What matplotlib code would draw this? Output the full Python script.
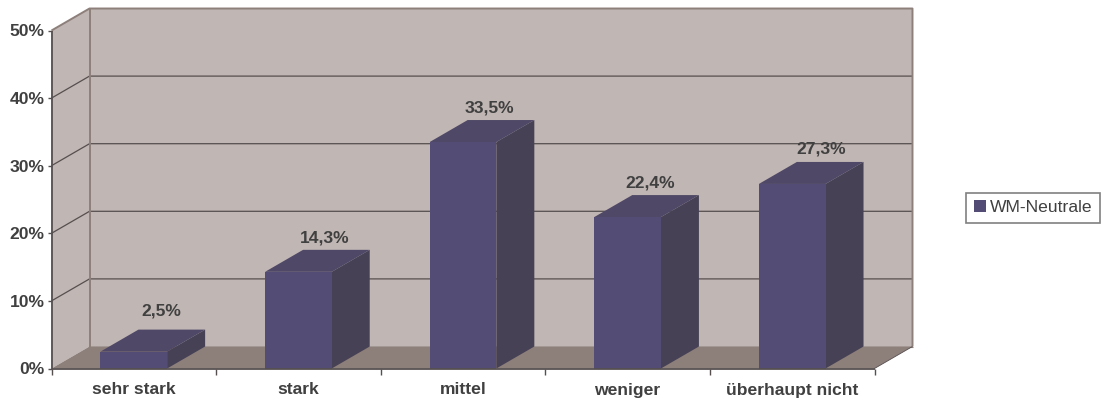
import matplotlib
matplotlib.use("Agg")
import matplotlib.pyplot as plt
from matplotlib.patches import Polygon, Patch

categories = ["sehr stark", "stark", "mittel", "weniger", "überhaupt nicht"]
values = [2.5, 14.3, 33.5, 22.4, 27.3]
value_labels = ["2,5%", "14,3%", "33,5%", "22,4%", "27,3%"]
y_ticks = [0, 10, 20, 30, 40, 50]
series_name = "WM-Neutrale"
label_shift_x = [28, 26, 26, 23, 29]
label_shift_y = [36, 29, 30, 30, 30]

W, H = 1103, 401
L, R, T, B = 51.5, 874.5, 30.5, 368.5
FS = 12.6
plt.rcParams["font.family"] = ["Liberation Sans", "DejaVu Sans"]
fig = plt.figure(figsize=(W / 100, H / 100), dpi=100, facecolor="white")
ax = fig.add_axes([L / W, 1 - B / H, (R - L) / W, (B - T) / H])
ax.set_xlim(0, len(categories))
ax.set_ylim(0, 50)
ax.patch.set_visible(False)
for s in ax.spines.values():
    s.set_visible(False)

dx = 38 / ((R - L) / 5)
dy = 22 / ((B - T) / 50)
n = len(categories)

WALL = "#C0B6B3"
FLOOR = "#8D7F7A"
EDGE = "#8D7F7A"
DARK = "#564F4F"
TEXT = "#404040"
FRONT = "#534C75"
TOP = "#4F4866"
SIDE = "#474156"

def poly(pts, fc, ec="none", lw=0, z=1):
    ax.add_patch(Polygon(pts, closed=True, fc=fc, ec=ec, lw=lw, zorder=z, clip_on=False))

def line(xs, ys, c, lw, z=2):
    ax.plot(xs, ys, color=c, lw=lw, zorder=z, clip_on=False, solid_capstyle="butt")

# walls and floor
poly([(dx, dy), (n + dx, dy), (n + dx, 50 + dy), (dx, 50 + dy)], WALL)
poly([(0, 0), (dx, dy), (dx, 50 + dy), (0, 50)], WALL)
poly([(0, 0), (n, 0), (n + dx, dy), (dx, dy)], FLOOR)

# gridlines
for v in y_ticks[1:-1]:
    line([0, dx, n + dx], [v, v + dy, v + dy], DARK, 0.9)

# wall outlines
line([0, dx, n + dx, n + dx], [50, 50 + dy, 50 + dy, dy], EDGE, 1.4)
line([dx, dx], [dy, 50 + dy], EDGE, 1.4)
line([dx, n + dx], [dy, dy], EDGE, 0.8)
line([n, n + dx], [0, dy], DARK, 0.6)

# bars
bw = 0.405
for i, v in enumerate(values):
    x0 = i + 0.5 - bw / 2
    x1 = x0 + bw
    poly([(x1, 0), (x1 + dx, dy), (x1 + dx, v + dy), (x1, v)], SIDE, z=3)
    poly([(x0, v), (x1, v), (x1 + dx, v + dy), (x0 + dx, v + dy)], TOP, z=3)
    poly([(x0, 0), (x1, 0), (x1, v), (x0, v)], FRONT, z=3)
    ax.annotate(value_labels[i], xy=(i + 0.5, v),
                xytext=(label_shift_x[i], label_shift_y[i]),
                textcoords="offset pixels", ha="center", va="baseline",
                fontsize=FS, fontweight="bold", color=TEXT, zorder=5,
                annotation_clip=False)

# axes
line([0, 0], [0, 50], DARK, 1.3, z=4)
line([0, n], [0, 0], DARK, 1.3, z=4)
ax.set_xticks(range(n + 1))
ax.set_xticklabels([""] * (n + 1))
ax.set_yticks(y_ticks)
ax.set_yticklabels([f"{v}%" for v in y_ticks], fontsize=FS, fontweight="bold", color=TEXT)
ax.tick_params(axis="both", length=3, width=1.0, color=DARK, pad=2)
ax.tick_params(axis="x", length=4)
for i, c in enumerate(categories):
    ax.annotate(c, xy=(i + 0.5, 0), xytext=(0, -26), textcoords="offset pixels",
                ha="center", va="baseline", fontsize=FS, fontweight="bold",
                color=TEXT, annotation_clip=False)

# legend
leg = fig.legend(handles=[Patch(fc=FRONT, ec="none", label=series_name)],
                 loc="upper left", bbox_to_anchor=(966.5 / W, 1 - 192.5 / H),
                 bbox_transform=fig.transFigure, borderaxespad=0, fontsize=FS,
                 frameon=True, fancybox=False, edgecolor="#808080", framealpha=1,
                 handlelength=0.72, handleheight=0.72, handletextpad=0.22,
                 borderpad=0.42, labelcolor=TEXT)
leg.get_frame().set_linewidth(1.2)

fig.savefig("out.png", dpi=100, facecolor="white")
